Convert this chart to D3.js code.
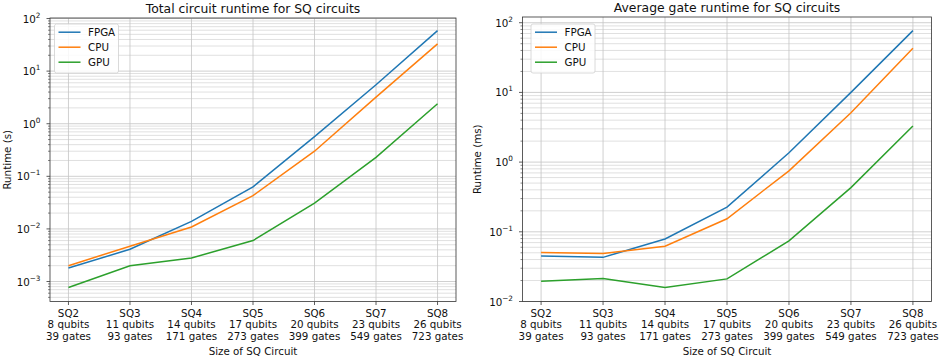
<!DOCTYPE html>
<html>
<head>
<meta charset="utf-8">
<script src="https://cdn.jsdelivr.net/npm/d3@7"></script>
<style>
  body { margin: 0; background: #fff; }
  svg { font-family: "DejaVu Sans", sans-serif; }
</style>
</head>
<body>
<div id="chart"></div>
<script>
// circuit sizes on the x axis
const circuits = ["SQ2", "SQ3", "SQ4", "SQ5", "SQ6", "SQ7", "SQ8"];
const qubits = ["8 qubits", "11 qubits", "14 qubits", "17 qubits", "20 qubits", "23 qubits", "26 qubits"];
const gates = ["39 gates", "93 gates", "171 gates", "273 gates", "399 gates", "549 gates", "723 gates"];

const seriesNames = ["FPGA", "CPU", "GPU"];
const colors = ["#1f77b4", "#ff7f0e", "#2ca02c"];

// total circuit runtime (s)
const totalFPGA = [0.0018, 0.0041, 0.0139, 0.063, 0.57, 5.5, 59];
const totalCPU = [0.0020, 0.0047, 0.0109, 0.043, 0.30, 3.2, 33];
const totalGPU = [0.00077, 0.0020, 0.0028, 0.0060, 0.031, 0.23, 2.4];

// average gate runtime (ms)
const avgFPGA = [0.045, 0.043, 0.079, 0.226, 1.36, 10, 77];
const avgCPU = [0.0506, 0.049, 0.062, 0.154, 0.75, 5.1, 43];
const avgGPU = [0.0196, 0.0214, 0.0159, 0.0211, 0.074, 0.43, 3.3];

const width = 941, height = 358;
const fs = 10.3;

const svg = d3.select("#chart")
    .append("svg")
    .attr("width", width)
    .attr("height", height);

function panel(opts) {
    const {left, right, top, bottom, title, ylabel, ylabelX, series, ydomain, legendX} = opts;

    let x = d3.scalePoint()
        .domain(circuits)
        .range([left, right])
        .padding(0.3);   // matplotlib style 5% margins

    let y = d3.scaleLog()
        .domain(ydomain)
        .range([bottom, top]);

    const g = svg.append("g");

    // grid: minor + major on y, one per category on x
    const lo = Math.ceil(Math.log10(ydomain[0])) - 1, hi = Math.floor(Math.log10(ydomain[1]));
    let minor = [], major = [];
    for (let e = lo; e <= hi; e++) {
        for (let k = 1; k < 10; k++) {
            const v = k * Math.pow(10, e);
            if (v < ydomain[0] * 0.999 || v > ydomain[1]) continue;
            (k === 1 ? major : minor).push(v);
        }
    }

    g.append("g").selectAll("line")
        .data(minor)
        .join("line")
        .attr("x1", left).attr("x2", right)
        .attr("y1", d => y(d)).attr("y2", d => y(d))
        .attr("stroke", "#d8d8d8")
        .attr("stroke-width", 0.8);

    g.append("g").selectAll("line")
        .data(major)
        .join("line")
        .attr("x1", left).attr("x2", right)
        .attr("y1", d => y(d)).attr("y2", d => y(d))
        .attr("stroke", "#c4c4c4")
        .attr("stroke-width", 0.8);

    g.append("g").selectAll("line")
        .data(circuits)
        .join("line")
        .attr("x1", d => x(d)).attr("x2", d => x(d))
        .attr("y1", top).attr("y2", bottom)
        .attr("stroke", "#c4c4c4")
        .attr("stroke-width", 0.8);

    // lines
    const line = d3.line()
        .x((d, i) => x(circuits[i]))
        .y(d => y(d));

    series.forEach((s, i) => {
        g.append("path")
            .datum(s)
            .attr("fill", "none")
            .attr("stroke", colors[i])
            .attr("stroke-width", 1.5)
            .attr("d", line);
    });

    // frame
    g.append("rect")
        .attr("x", left).attr("y", top)
        .attr("width", right - left).attr("height", bottom - top)
        .attr("fill", "none")
        .attr("stroke", "#333")
        .attr("stroke-width", 0.8);

    // y ticks
    const yt = g.append("g");
    yt.selectAll(".minor")
        .data(minor)
        .join("line")
        .attr("x1", left - 2).attr("x2", left)
        .attr("y1", d => y(d)).attr("y2", d => y(d))
        .attr("stroke", "#333").attr("stroke-width", 0.6);
    yt.selectAll(".major")
        .data(major)
        .join("line")
        .attr("x1", left - 3.5).attr("x2", left)
        .attr("y1", d => y(d)).attr("y2", d => y(d))
        .attr("stroke", "#333").attr("stroke-width", 0.8);
    const lbl = yt.selectAll("text")
        .data(major)
        .join("text")
        .attr("x", left - 9.5)
        .attr("y", d => y(d) + 4)
        .attr("text-anchor", "end")
        .attr("font-size", fs)
        .attr("fill", "#111");
    lbl.append("tspan").text("10");
    lbl.append("tspan")
        .attr("dy", -5)
        .attr("font-size", 7.3)
        .text(d => {
            const e = Math.round(Math.log10(d));
            return e < 0 ? "\u2212" + (-e) : String(e);
        });

    // x ticks
    const xt = g.append("g");
    xt.selectAll("line")
        .data(circuits)
        .join("line")
        .attr("x1", d => x(d)).attr("x2", d => x(d))
        .attr("y1", bottom).attr("y2", bottom + 3.5)
        .attr("stroke", "#333").attr("stroke-width", 0.8);
    const xl = xt.selectAll("text")
        .data(circuits)
        .join("text")
        .attr("text-anchor", "middle")
        .attr("font-size", fs)
        .attr("fill", "#111");
    xl.append("tspan").attr("x", d => x(d)).attr("y", bottom + 15).text(d => d);
    xl.append("tspan").attr("x", d => x(d)).attr("y", bottom + 26.5).text((d, i) => qubits[i]);
    xl.append("tspan").attr("x", d => x(d)).attr("y", bottom + 38).text((d, i) => gates[i]);

    // labels
    g.append("text")
        .attr("x", (left + right) / 2)
        .attr("y", top - 5)
        .attr("text-anchor", "middle")
        .attr("font-size", 12.4)
        .attr("fill", "#111")
        .text(title);

    g.append("text")
        .attr("x", (left + right) / 2)
        .attr("y", bottom + 53)
        .attr("text-anchor", "middle")
        .attr("font-size", fs)
        .attr("fill", "#111")
        .text("Size of SQ Circuit");

    g.append("text")
        .attr("transform", `translate(${ylabelX},${(top + bottom) / 2}) rotate(-90)`)
        .attr("text-anchor", "middle")
        .attr("font-size", fs)
        .attr("fill", "#111")
        .text(ylabel);

    // legend
    const lg = g.append("g").attr("transform", `translate(${legendX},24)`);
    lg.append("rect")
        .attr("width", 64).attr("height", 49)
        .attr("rx", 2)
        .attr("fill", "#fff").attr("fill-opacity", 0.85)
        .attr("stroke", "#d0d0d0").attr("stroke-width", 0.8);
    seriesNames.forEach((n, i) => {
        lg.append("line")
            .attr("x1", 4).attr("x2", 26)
            .attr("y1", 8.2 + i * 15).attr("y2", 8.2 + i * 15)
            .attr("stroke", colors[i]).attr("stroke-width", 1.5);
        lg.append("text")
            .attr("x", 33.5).attr("y", 12 + i * 15)
            .attr("font-size", fs)
            .attr("fill", "#111")
            .text(n);
    });
}

panel({
    left: 50, right: 456, top: 18, bottom: 301.5,
    title: "Total circuit runtime for SQ circuits",
    ylabel: "Runtime (s)", ylabelX: 11,
    series: [totalFPGA, totalCPU, totalGPU],
    ydomain: [Math.pow(10, -3.38), Math.pow(10, 2.01)],
    legendX: 54.5
});

panel({
    left: 522.5, right: 931.5, top: 17, bottom: 301.5,
    title: "Average gate runtime for SQ circuits",
    ylabel: "Runtime (ms)", ylabelX: 481,
    series: [avgFPGA, avgCPU, avgGPU],
    ydomain: [Math.pow(10, -2), Math.pow(10, 2.082)],
    legendX: 531
});
</script>
</body>
</html>
